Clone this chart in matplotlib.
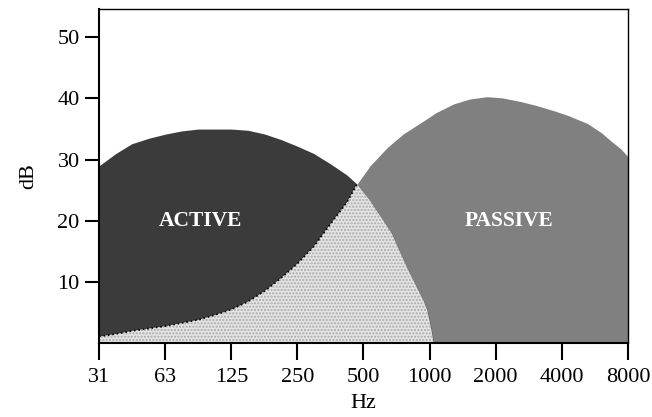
import matplotlib.pyplot as plt

# Curvas ACTIVE / PASSIVE (Hz, dB)
active_hz = [31.25, 37.2, 44, 52.6, 63, 74.3, 88, 105, 125, 149, 177, 210,
             250, 297, 354, 420, 467, 536, 674, 791, 940, 980, 1028, 1043]
active_db = [29, 31, 32.6, 33.5, 34.2, 34.7, 35, 35, 35, 34.8, 34.2, 33.3,
             32.2, 31, 29.3, 27.5, 26, 23.3, 17.9, 12.3, 6.9, 5.2, 1.5, 0]

passive_hz = [31.25, 37.2, 44, 52.6, 63, 74.3, 88, 105, 125, 149, 177, 210,
              250, 297, 354, 420, 467, 536, 642, 758, 908, 1072, 1284, 1516,
              1825, 2144, 2603, 3032, 3682, 4287, 5240, 6060, 6680, 7460, 8000]
passive_db = [1.1, 1.5, 2, 2.4, 2.8, 3.3, 3.8, 4.6, 5.5, 6.8, 8.5, 10.6,
              13, 15.8, 19.5, 23, 26, 29, 32, 34.2, 36, 37.7, 39.1, 39.9,
              40.3, 40.1, 39.5, 38.9, 38, 37.2, 35.9, 34.4, 33.1, 31.7, 30.5]

cross_hz = 467  # punto donde se cruzan las curvas

tick_hz = [31.25, 62.5, 125, 250, 500, 1000, 2000, 4000, 8000]
tick_labels = ['31', '63', '125', '250', '500', '1000', '2000', '4000', '8000']

plt.rcParams['font.family'] = ['Liberation Serif', 'DejaVu Serif']

fig = plt.figure(figsize=(6.52, 4.17), dpi=100)
ax = fig.add_axes([0.152, 0.177, 0.811, 0.801])

ax.fill_between(passive_hz, 0, passive_db, color='#808080', lw=0)
ax.fill_between(active_hz, 0, active_db, color='#3b3b3b', lw=0)

# zona comun (debajo de ambas curvas)
ov_x = [h for h in passive_hz if h <= cross_hz] + [h for h in active_hz if h > cross_hz]
ov_y = [d for h, d in zip(passive_hz, passive_db) if h <= cross_hz] + \
       [d for h, d in zip(active_hz, active_db) if h > cross_hz]
ax.fill_between(ov_x, 0, ov_y, facecolor='#e4e4e4', edgecolor='#a8a8a8',
                hatch='.....', lw=0)
n_low = len([h for h in passive_hz if h <= cross_hz])
ax.plot(ov_x[:n_low], ov_y[:n_low], ls=':', color='black', lw=1.2)

ax.text(2 ** 1.53 * 31.25, 20, 'ACTIVE', color='white', fontsize=15.5,
        fontweight='bold', ha='center', va='center')
ax.text(2 ** 6.2 * 31.25, 20, 'PASSIVE', color='white', fontsize=15.5,
        fontweight='bold', ha='center', va='center')

ax.set_xscale('log', base=2)
ax.set_xlim(31.25, 8000)
ax.set_ylim(0, 54.6)
ax.set_xticks(tick_hz)
ax.set_xticklabels(tick_labels)
ax.minorticks_off()
ax.set_yticks([10, 20, 30, 40, 50])
ax.tick_params(axis='both', width=1.5, labelsize=16, direction='out')
ax.tick_params(axis='x', length=12, pad=6)
ax.tick_params(axis='y', length=10, pad=4)
for s in ax.spines.values():
    s.set_linewidth(1.5)
ax.spines['top'].set_linewidth(1.0)
ax.spines['right'].set_linewidth(1.0)

ax.set_xlabel('Hz', fontsize=16, labelpad=5)
ax.set_ylabel('dB', fontsize=16, labelpad=14)

plt.savefig('out.png', dpi=100, facecolor='white')
